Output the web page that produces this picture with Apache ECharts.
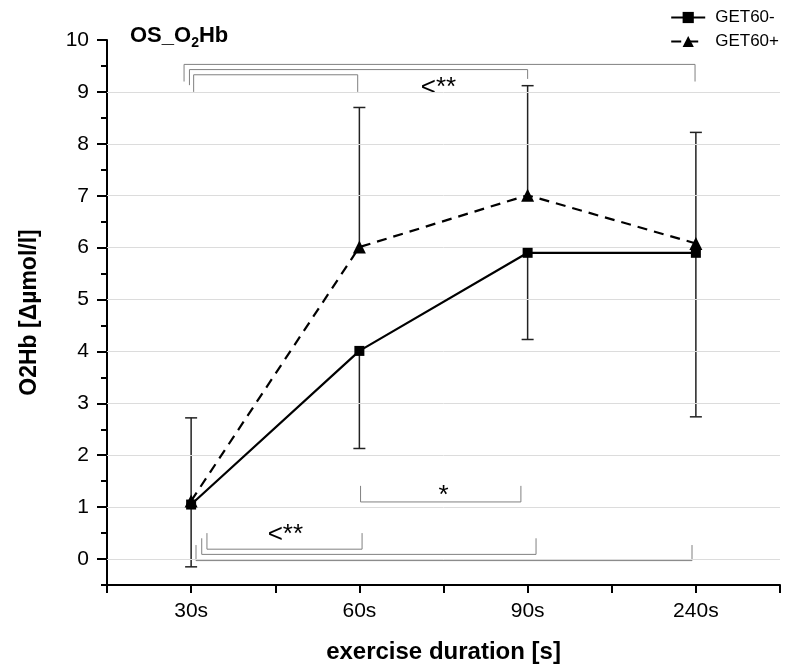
<!DOCTYPE html>
<html>
<head>
<meta charset="utf-8">
<script src="https://cdn.jsdelivr.net/npm/echarts@6/dist/echarts.min.js"></script>
<style>
  html, body { margin: 0; padding: 0; background: #fff; }
  #chart { width: 787px; height: 664px; }
</style>
</head>
<body>
<div id="chart"></div>
<script>
// categories on x (placed at 1..4)
var categories = ['30s', '60s', '90s', '240s']
var xPos = [1, 2, 3, 4]

// mean values
var getMinus = [1.05, 4.01, 5.9, 5.9]
var getPlus = [1.12, 6.01, 7.01, 6.08]
// one sided error bars: GET60- downwards, GET60+ upwards
var getMinusLow = [-0.15, 2.13, 4.23, 2.74]
var getPlusHigh = [2.72, 8.7, 9.12, 8.22]

// y tick labels / gridlines
var yLabels = [0, 1, 2, 3, 4, 5, 6, 7, 8, 9, 10]
var gridLines = [0, 1, 2, 3, 4, 5, 6, 7, 8, 9]
var xTicks = [0.5, 1, 1.5, 2, 2.5, 3, 3.5, 4, 4.5]

// significance brackets: [x1, x2, bar y, left leg end y, right leg end y]
var brackets = [
  [0.958, 3.995, 9.53, 9.2, 9.2],
  [0.99, 3.0, 9.43, 9.13, 9.25],
  [1.015, 1.99, 9.33, 9.0, 9.0],
  [2.007, 2.96, 1.1, 1.41, 1.41],
  [1.094, 2.016, 0.19, 0.5, 0.5],
  [1.063, 3.05, 0.09, 0.4, 0.4],
  [1.029, 3.977, -0.03, 0.27, 0.27]
]
// bracket labels: [x, y, text]
var bracketLabels = [
  [2.47, 9.07, '<**'],
  [2.5, 1.22, '*'],
  [1.56, 0.46, '<**']
]

var FONT = '"Liberation Sans", Arial, sans-serif'

var chart = echarts.init(document.getElementById('chart'), null, { renderer: 'canvas' })

function pairs(xs, ys) {
  var out = []
  for (var i = 0; i < xs.length; i++) out.push([xs[i], ys[i]])
  return out
}

function errData(xs, means, ends) {
  var out = []
  for (var i = 0; i < xs.length; i++) out.push([xs[i], means[i], ends[i]])
  return out
}

function renderErr(params, api) {
  var x = api.value(0)
  var p1 = api.coord([x, api.value(1)])
  var p2 = api.coord([x, api.value(2)])
  var half = 6
  var st = { stroke: '#222', lineWidth: 1.5 }
  return {
    type: 'group',
    children: [
      { type: 'line', shape: { x1: p1[0], y1: p1[1], x2: p2[0], y2: p2[1] }, style: st },
      { type: 'line', shape: { x1: p2[0] - half, y1: p2[1], x2: p2[0] + half, y2: p2[1] }, style: st }
    ]
  }
}

function renderBracket(params, api) {
  var x1 = api.value(0), x2 = api.value(1), yb = api.value(2)
  var a = api.coord([x1, api.value(3)])
  var b = api.coord([x1, yb])
  var c = api.coord([x2, yb])
  var d = api.coord([x2, api.value(4)])
  return {
    type: 'polyline',
    shape: { points: [a, b, c, d] },
    style: { stroke: '#808080', lineWidth: 1, fill: null }
  }
}

function renderLabel(params, api) {
  var p = api.coord([api.value(0), api.value(1)])
  return {
    type: 'text',
    x: p[0], y: p[1],
    style: {
      text: bracketLabels[params.dataIndex][2],
      fontFamily: FONT, fontSize: 26, fill: '#000',
      align: 'center', verticalAlign: 'middle'
    }
  }
}

var gridMarks = []
for (let g of gridLines) {
  gridMarks.push({ yAxis: g })
}

chart.setOption({
  animation: false,
  textStyle: { fontFamily: FONT },
  title: {
    left: 125,
    top: 17,
    text: '{a|OS_O}{s|2}{a|Hb}',
    textStyle: {
      rich: {
        a: { fontFamily: FONT, fontSize: 22, fontWeight: 'bold', color: '#000' },
        s: { fontFamily: FONT, fontSize: 14, fontWeight: 'bold', color: '#000', padding: [14, 0, 0, 0] }
      }
    }
  },
  legend: {
    orient: 'vertical',
    right: 3,
    top: 4,
    itemWidth: 34,
    itemHeight: 14,
    itemGap: 7,
    textStyle: { fontFamily: FONT, fontSize: 17, color: '#000', padding: [0, 0, 0, 5] },
    data: ['GET60-', 'GET60+']
  },
  grid: { left: 107, right: 7, top: 40, bottom: 79, outerBoundsMode: 'none' },
  xAxis: {
    type: 'value',
    min: 0.5,
    max: 4.5,
    name: 'exercise duration [s]',
    nameLocation: 'middle',
    nameGap: 55,
    nameTextStyle: { fontFamily: FONT, fontSize: 24, fontWeight: 'bold', color: '#000' },
    axisLine: { onZero: false, lineStyle: { color: '#000', width: 2 } },
    axisTick: { customValues: xTicks, length: 8, lineStyle: { color: '#000', width: 2 } },
    axisLabel: {
      customValues: xPos,
      margin: 16,
      fontFamily: FONT, fontSize: 21, color: '#000',
      formatter: function (v) { return categories[Math.round(v) - 1] }
    },
    splitLine: { show: false }
  },
  yAxis: [
    {
      type: 'value',
      min: -0.5,
      max: 10,
      name: 'O2Hb [Δµmol/l]',
      nameLocation: 'middle',
      nameGap: 66,
      nameTextStyle: { fontFamily: FONT, fontSize: 23, fontWeight: 'bold', color: '#000' },
      axisLine: { show: true, onZero: false, lineStyle: { color: '#000', width: 2 } },
      axisTick: { show: true, customValues: yLabels, length: 10, lineStyle: { color: '#000', width: 2 } },
      axisLabel: { customValues: yLabels, margin: 18, fontFamily: FONT, fontSize: 21, color: '#000' },
      splitLine: { show: false }
    },
    {
      type: 'value',
      min: -0.5,
      max: 10,
      interval: 0.5,
      position: 'left',
      axisLine: { show: false },
      axisTick: { show: true, length: 6, lineStyle: { color: '#000', width: 2 } },
      axisLabel: { show: false },
      splitLine: { show: false }
    }
  ],
  series: [
    {
      name: 'grid',
      type: 'line',
      data: [],
      silent: true,
      markLine: {
        silent: true,
        symbol: 'none',
        label: { show: false },
        lineStyle: { color: '#dcdcdc', width: 1, type: 'solid' },
        data: gridMarks
      }
    },
    {
      name: 'bracketLines',
      type: 'custom',
      silent: true,
      renderItem: renderBracket,
      data: brackets,
      z: 3
    },
    {
      name: 'bracketText',
      type: 'custom',
      silent: true,
      renderItem: renderLabel,
      data: bracketLabels.map(function (b) { return [b[0], b[1]] }),
      z: 3
    },
    {
      name: 'errMinus',
      type: 'custom',
      silent: true,
      renderItem: renderErr,
      data: errData(xPos, getMinus, getMinusLow),
      z: 4
    },
    {
      name: 'errPlus',
      type: 'custom',
      silent: true,
      renderItem: renderErr,
      data: errData(xPos, getPlus, getPlusHigh),
      z: 4
    },
    {
      name: 'GET60-',
      type: 'line',
      data: pairs(xPos, getMinus),
      symbol: 'rect',
      symbolSize: 10,
      lineStyle: { color: '#000', width: 2.2 },
      itemStyle: { color: '#000' },
      z: 5
    },
    {
      name: 'GET60+',
      type: 'line',
      data: pairs(xPos, getPlus),
      symbol: 'triangle',
      symbolSize: 13,
      lineStyle: { color: '#000', width: 2.2, type: [10, 7] },
      itemStyle: { color: '#000' },
      z: 5
    }
  ]
})
</script>
</body>
</html>
